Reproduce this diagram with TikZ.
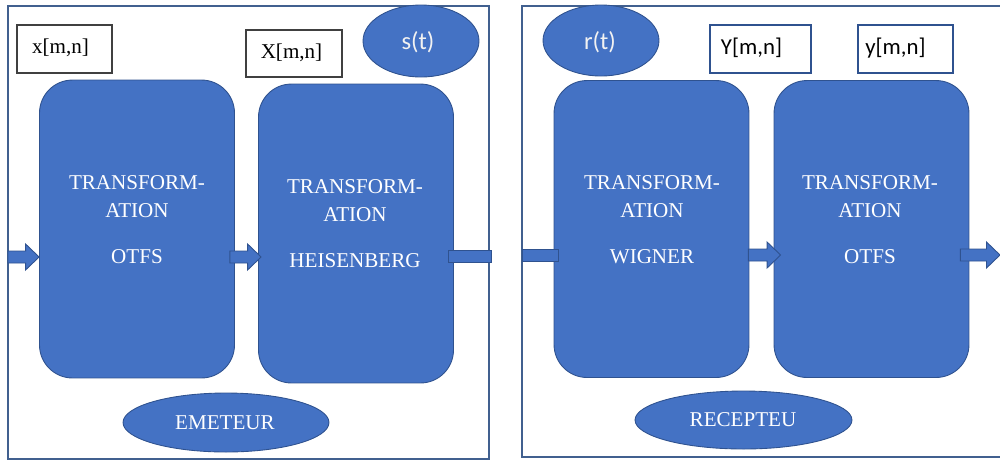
\documentclass[tikz,border=0pt]{standalone}
\usepackage{fontspec}
\setmainfont{Liberation Serif}
\newfontfamily\calibfont{Carlito}
\usetikzlibrary{shapes.geometric,calc}
\definecolor{boxblue}{HTML}{4472C4}
\definecolor{edgeblue}{HTML}{2F528F}
\definecolor{framecol}{HTML}{41608F}
\definecolor{tagedge}{HTML}{404040}
\definecolor{softwhite}{HTML}{F2F2F2}

% block arrow from a start point to a tip point (horizontal)
\newcommand{\blockarrow}[2]{%
  \draw[arrowbody] let \p1=(#1), \p2=(#2) in
    (\x1,\y1+0.12cm) -- (\x2-0.27cm,\y1+0.12cm) -- (\x2-0.27cm,\y1+0.26cm)
    -- (\x2,\y1) -- (\x2-0.27cm,\y1-0.26cm) -- (\x2-0.27cm,\y1-0.12cm)
    -- (\x1,\y1-0.12cm) -- cycle;}
% plain bar between two points (horizontal)
\newcommand{\blockbar}[2]{%
  \draw[arrowbody] let \p1=(#1), \p2=(#2) in
    (\x1,\y1+0.12cm) rectangle (\x2,\y1-0.12cm);}

\begin{document}
\begin{tikzpicture}[x=0.02cm,y=-0.02cm,
  frame/.style={draw=framecol,line width=0.8pt},
  block/.style={draw=edgeblue,fill=boxblue,line width=0.5pt,
    rounded corners=0.66cm,inner sep=0pt,minimum width=3.9cm},
  boxtext/.style={text=white,align=center,inner sep=0pt,
    font=\fontsize{12}{15.9}\selectfont},
  tag/.style={draw=tagedge,line width=0.9pt,inner sep=0pt,fill=white},
  tagr/.style={draw=edgeblue,line width=0.6pt,inner sep=0pt,fill=white},
  tagtext/.style={inner sep=0pt,font=\fontsize{12}{14}\selectfont},
  tagtextr/.style={inner sep=0pt,font=\calibfont\fontsize{13}{15}\selectfont},
  sig/.style={ellipse,draw=edgeblue,fill=boxblue,line width=0.5pt,inner sep=0pt},
  sigtext/.style={inner sep=0pt,text=softwhite,font=\calibfont\fontsize{14}{16}\selectfont},
  arrowbody/.style={draw=edgeblue,fill=boxblue,line width=0.5pt},
]
\useasboundingbox (0,0) rectangle (1000,461);

% outer frames
\draw[frame] (8,6) rectangle (489,459);
\draw[frame] (1006,6) -- (522,6) -- (522,457) -- (1006,457);

% signal tags
\node[tag,minimum width=1.9cm,minimum height=0.96cm] (xbox) at (64.5,49) {};
\node[tagtext] (xlab) at (60.5,48) {x[m,n]};
\node[tag,minimum width=1.92cm,minimum height=0.94cm] (Xbox) at (294,53.5) {};
\node[tagtext] (Xlab) at (291.5,53) {X[m,n]};
\node[tagr,minimum width=2.02cm,minimum height=0.96cm] (Ybox) at (760.5,49) {};
\node[tagtextr] (Ylab) at (751.5,48) {Y[m,n]};
\node[tagr,minimum width=1.9cm,minimum height=0.96cm] (ybox) at (905.5,49) {};
\node[tagtextr] (ylab) at (895.5,48) {y[m,n]};

% time signals
\node[sig,minimum width=2.32cm,minimum height=1.44cm] (st) at (421,41) {};
\node[sigtext] (stlab) at (418,42.5) {s(t)};
\node[sig,minimum width=2.32cm,minimum height=1.42cm] (rt) at (601,40.5) {};
\node[sigtext] (rtlab) at (600,42) {r(t)};

% processing blocks
\node[block,minimum height=5.96cm] (b1) at (137,229) {};
\node[block,minimum height=5.98cm] (b2) at (356,233.5) {};
\node[block,minimum height=5.94cm] (b3) at (651.5,229) {};
\node[block,minimum height=5.94cm] (b4) at (871.5,229) {};

\node[boxtext] (t1) at (137,220) {TRANSFORM-\\ATION\\[0.36cm]OTFS};
\node[boxtext] (t2) at (355,223.5) {TRANSFORM-\\ATION\\[0.36cm]HEISENBERG};
\node[boxtext] (t3) at (652,220) {TRANSFORM-\\ATION\\[0.36cm]WIGNER};
\node[boxtext] (t4) at (870,220) {TRANSFORM-\\ATION\\[0.36cm]OTFS};

% flow arrows
\coordinate (inL) at (8,257);
\coordinate (outL) at (491,256);
\coordinate (inR) at (522,255);
\coordinate (outR) at (1000,255);
\blockarrow{inL}{b1.west|-inL}
\blockarrow{$(b1.east|-inL)+(-5,0)$}{$(b2.west|-inL)+(3,0)$}
\blockbar{$(b2.east|-outL)+(-5,0)$}{outL}
\blockbar{inR}{$(b3.west|-inR)+(5,0)$}
\blockarrow{$(b3.east|-inR)+(-1,0)$}{$(b4.west|-inR)+(7,0)$}
\blockarrow{$(b4.east|-outR)+(-9,0)$}{outR}

% side captions
\node[sig,minimum width=4.12cm,minimum height=1.18cm] (em) at (226,422.5) {};
\node[boxtext] (emlab) at (225,423) {EMETEUR};
\node[sig,minimum width=4.34cm,minimum height=1.16cm] (rc) at (743.5,420) {};
\node[boxtext] (rclab) at (743,420) {RECEPTEU};
\end{tikzpicture}
\end{document}
